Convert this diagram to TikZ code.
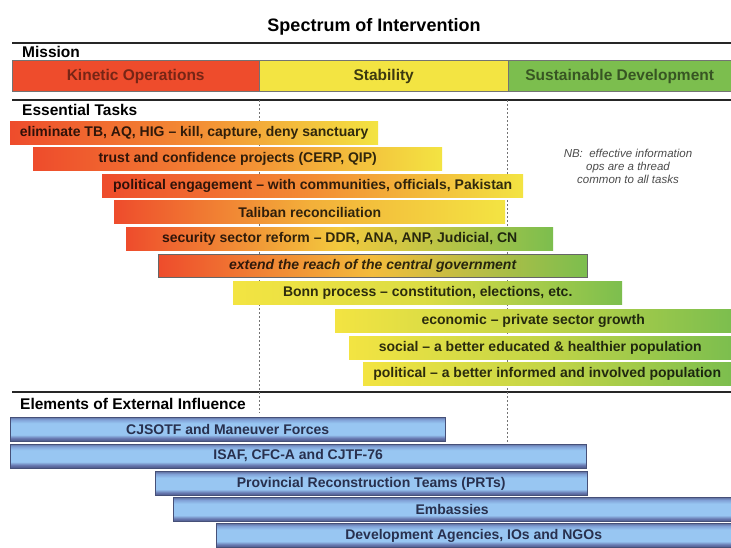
\documentclass[tikz,border=0pt]{standalone}
\usepackage{fontspec}
\setmainfont{Liberation Sans}
\usepackage{tikz}
\definecolor{kinred}{RGB}{238,76,44}
\definecolor{kinorange}{RGB}{243,140,52}
\definecolor{stabyellow}{RGB}{243,228,66}
\definecolor{devgreen}{RGB}{124,190,78}
\definecolor{exttop}{RGB}{96,112,160}
\definecolor{extupper}{RGB}{128,160,214}
\definecolor{extmid}{RGB}{152,198,242}
\definecolor{extlow}{RGB}{104,120,176}
\definecolor{extbottom}{RGB}{74,86,134}
\definecolor{extedge}{RGB}{70,80,120}
\definecolor{exttext}{RGB}{40,48,78}
\pgfdeclareverticalshading{extcyl}{100bp}{color(0bp)=(extbottom); color(25bp)=(extbottom); color(31bp)=(extlow); color(38bp)=(extmid); color(62bp)=(extmid); color(70bp)=(extupper); color(75bp)=(exttop); color(100bp)=(exttop)}
\tikzstyle{heading} = [anchor=west, inner sep=0pt, font=\bfseries\fontsize{15.5}{18}\selectfont]
\tikzstyle{missionbar} = [rectangle, anchor=west, minimum height=31pt, inner sep=0pt, draw=black!55, font=\bfseries\fontsize{15.5}{18}\selectfont]
\tikzstyle{taskbar} = [rectangle, anchor=west, minimum height=23pt, inner sep=0pt, text opacity=0.8, font=\bfseries\fontsize{14}{16}\selectfont]
\tikzstyle{extbar} = [rectangle, anchor=west, minimum height=24pt, inner sep=0pt, draw=extedge, shading=extcyl, text=exttext, font=\bfseries\fontsize{14}{16}\selectfont]
\tikzstyle{rule} = [line width=2.5pt, black!85]
\tikzstyle{guide} = [black!55, dash pattern=on 2pt off 2pt]

\begin{document}
\begin{tikzpicture}[x=1pt, y=-1pt]
  \fill[white] (0,0) rectangle (731,547);
  \useasboundingbox (0,0) rectangle (731,547);

  % title and section rules
  \node[font=\bfseries\fontsize{18}{20}\selectfont] (title) at (374,27) {Spectrum of Intervention};
  \draw[rule] (12,43) -- (731,43);
  \draw[rule] (12,100) -- (731,100);
  \draw[rule] (12,392) -- (731,392);
  \draw[guide] (259,100) -- (259,413);
  \draw[guide] (507,100) -- (507,443);

  % mission
  \node[heading] (mission) at (22,52) {Mission};
  \node[missionbar, fill=kinred, minimum width=247pt, text opacity=0.5] (kinetic) at (12,76) {Kinetic Operations};
  \node[missionbar, fill=stabyellow, minimum width=249pt, text opacity=0.75] (stability) at (259,76) {Stability};
  \node[missionbar, fill=devgreen, minimum width=223pt, text opacity=0.55] (sustain) at (508,76) {Sustainable Development};

  % essential tasks
  \node[heading] (tasks) at (22,110) {Essential Tasks};
  \node[taskbar, minimum width=368pt, left color=kinred, right color=stabyellow, middle color=kinorange] (elim) at (10,132.5) {eliminate TB, AQ, HIG -- kill, capture, deny sanctuary};
  \node[taskbar, minimum width=409pt, left color=kinred, right color=stabyellow, middle color=kinorange] (trust) at (33,159) {trust and confidence projects (CERP, QIP)};
  \node[taskbar, minimum width=421pt, left color=kinred, right color=stabyellow, middle color=kinorange] (engage) at (102,185.5) {political engagement -- with communities, officials, Pakistan};
  \node[taskbar, minimum width=391pt, left color=kinred, right color=stabyellow, middle color=kinorange!60!stabyellow] (taliban) at (114,212) {Taliban reconciliation};
  \node[taskbar, minimum width=427pt, left color=kinred, right color=devgreen, middle color=stabyellow!70!kinorange] (ssr) at (126,238.5) {security sector reform -- DDR, ANA, ANP, Judicial, CN};
  \node[taskbar, minimum width=429pt, draw=black!60, left color=kinred, right color=devgreen, middle color=stabyellow!55!kinorange, font=\bfseries\itshape\fontsize{14}{16}\selectfont] (reach) at (158,266) {extend the reach of the central government};
  \node[taskbar, minimum width=389pt, left color=stabyellow, right color=devgreen, middle color=stabyellow!80!devgreen] (bonn) at (233,293) {Bonn process -- constitution, elections, etc.};
  \node[taskbar, minimum width=396pt, left color=stabyellow, right color=devgreen, middle color=stabyellow!60!devgreen] (economic) at (335,321) {economic -- private sector growth};
  \node[taskbar, minimum width=382pt, left color=stabyellow, right color=devgreen, middle color=stabyellow!60!devgreen] (social) at (349,347.5) {social -- a better educated \& healthier population};
  \node[taskbar, minimum width=368pt, left color=stabyellow, right color=devgreen, middle color=stabyellow!60!devgreen] (political) at (363,374) {political -- a better informed and involved population};

  \node[align=center, text=black!70, font=\itshape\fontsize{11.5}{13}\selectfont] (nb) at (628,166) {NB:\ \ effective information\\ops are a thread\\common to all tasks};

  % external influence
  \node[heading] (external) at (20,404) {Elements of External Influence};
  \node[extbar, minimum width=435pt] (cjsotf) at (10,429) {CJSOTF and Maneuver Forces};
  \node[extbar, minimum width=576pt] (isaf) at (10,456) {ISAF, CFC-A and CJTF-76};
  \node[extbar, minimum width=432pt] (prt) at (155,483.5) {Provincial Reconstruction Teams (PRTs)};
  \node[extbar, minimum width=558pt] (embassy) at (173,509.5) {Embassies};
  \node[extbar, minimum width=515pt] (agency) at (216,535.5) {Development Agencies, IOs and NGOs};
\end{tikzpicture}
\end{document}
